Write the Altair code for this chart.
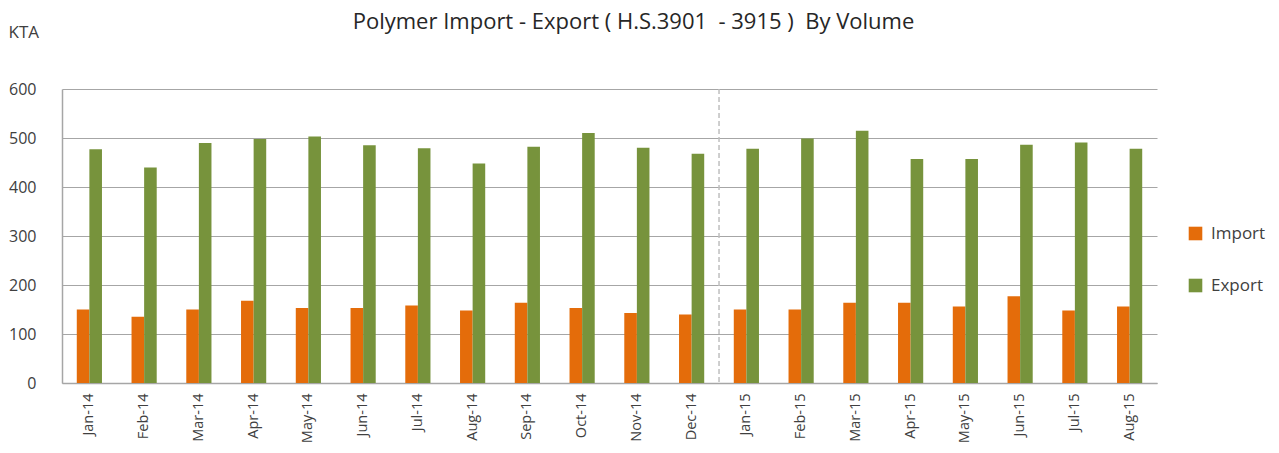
import altair as alt
import pandas as pd

months = ["Jan-14", "Feb-14", "Mar-14", "Apr-14", "May-14", "Jun-14", "Jul-14",
          "Aug-14", "Sep-14", "Oct-14", "Nov-14", "Dec-14", "Jan-15", "Feb-15",
          "Mar-15", "Apr-15", "May-15", "Jun-15", "Jul-15", "Aug-15"]
import_vals = [150, 135, 150, 168, 153, 153, 158, 148, 164, 153, 143, 140,
               150, 150, 164, 164, 156, 177, 148, 156]
export_vals = [477, 440, 490, 498, 503, 485, 479, 448, 482, 510, 480, 468,
               478, 499, 515, 457, 457, 486, 491, 478]
series = ["Import", "Export"]
colors = ["#E46C0A", "#77933C"]
y_ticks = [0, 100, 200, 300, 400, 500, 600]
divider = ["Dec-14"]

rows = []
for m, i, e in zip(months, import_vals, export_vals):
    rows.append({"month": m, "series": "Import", "value": i})
    rows.append({"month": m, "series": "Export", "value": e})
df = pd.DataFrame(rows)
div_df = pd.DataFrame({"month": divider})

FONT = "Open Sans"
TXT = "#404040"

x_enc = alt.X("month:N", sort=months,
              scale=alt.Scale(paddingInner=0.54, paddingOuter=0.27),
              axis=alt.Axis(title=None, labelAngle=-90, labelFontSize=14.5,
                            labelColor=TXT, labelPadding=10, ticks=False,
                            domainColor="#A6A6A6", domainWidth=1.5,
                            labelFont=FONT))

bars = alt.Chart(df).mark_bar().encode(
    x=x_enc,
    xOffset=alt.XOffset("series:N", sort=series),
    y=alt.Y("value:Q",
            scale=alt.Scale(domain=[0, 600], nice=False),
            axis=alt.Axis(values=y_ticks, title="KTA", titleAngle=0,
                          titleAlign="left", titleBaseline="alphabetic",
                          titleX=-54, titleY=-52, titleFontSize=17,
                          titleFontWeight="normal", titleColor=TXT,
                          titleFont=FONT,
                          labelFontSize=16, labelColor=TXT,
                          labelPadding=26, ticks=False, grid=True,
                          gridColor="#A6A6A6", gridWidth=1.2,
                          domainColor="#A6A6A6", domainWidth=1.5,
                          labelFont=FONT)),
    color=alt.Color("series:N", sort=series,
                    scale=alt.Scale(domain=series, range=colors),
                    legend=alt.Legend(title=None, orient="none",
                                      legendX=1125, legendY=136,
                                      symbolType="square", symbolSize=185,
                                      symbolStrokeWidth=0,
                                      labelFontSize=17, labelColor=TXT,
                                      labelFont=FONT, rowPadding=34,
                                      labelOffset=7)),
)

rule = alt.Chart(div_df).mark_rule(color="#BFBFBF", strokeDash=[5, 3],
                                   strokeWidth=1.5, xOffset=14.8).encode(
    x=alt.X("month:N", sort=months, bandPosition=1)
)

chart = alt.layer(bars, rule).properties(
    width=1095, height=294,
    autosize=alt.AutoSizeParams(type="none"),
    padding={"left": 54, "top": 81, "right": 112, "bottom": 62},
    title=alt.TitleParams(
        text="Polymer Import - Export ( H.S.3901\u00a0 - 3915 )\u00a0 By Volume",
        fontSize=22, fontWeight="normal", font=FONT, color="#262626",
        anchor="middle", frame="group", dx=24, baseline="alphabetic",
        offset=-28),
).configure_view(stroke=None)

chart.save("out.html", embed_options={"renderer": "svg", "actions": False})
